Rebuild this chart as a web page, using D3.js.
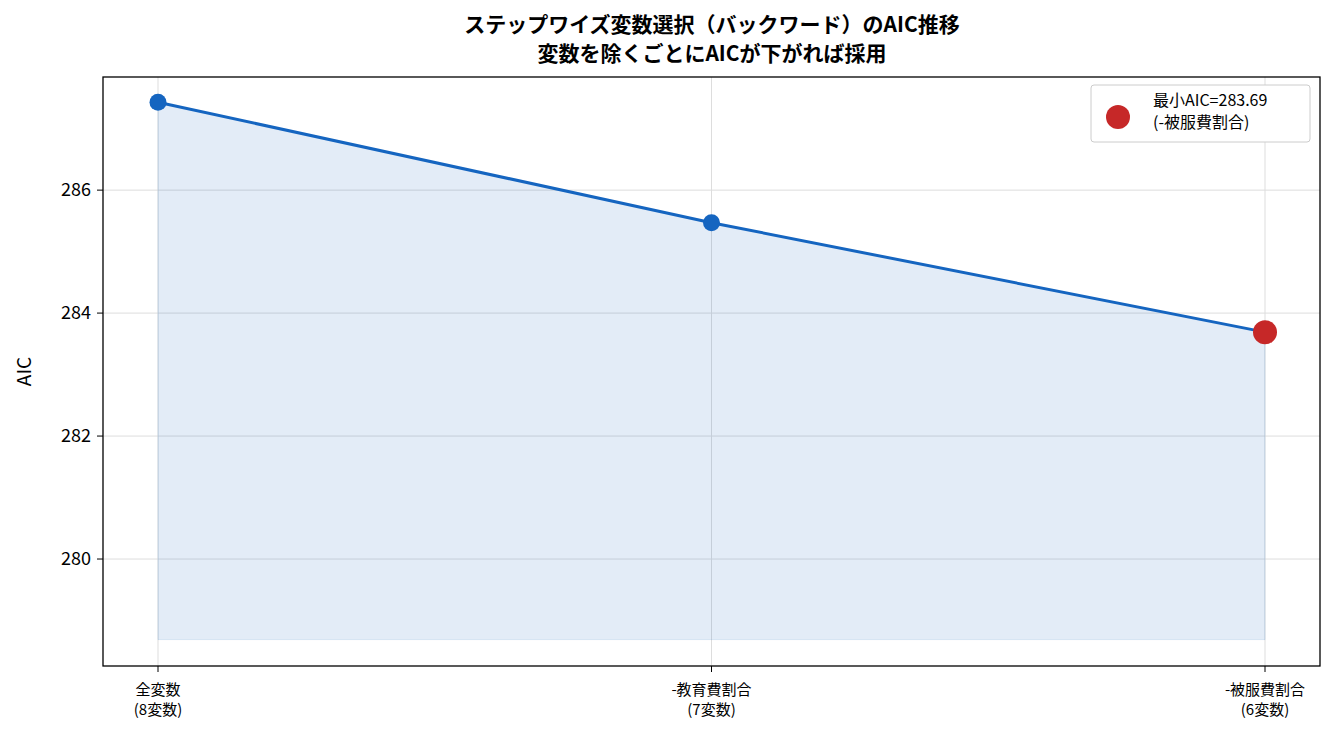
<!DOCTYPE html>
<html><head><meta charset="utf-8">
<script src="https://cdn.jsdelivr.net/npm/d3@7/dist/d3.min.js"></script>
<style>body{margin:0;background:#fff}text{font-family:"Noto Sans CJK JP","Noto Sans",sans-serif}</style>
</head><body><svg id="c" width="1334" height="735"></svg>
<script>
const categories=["全変数\n(8変数)","-教育費割合\n(7変数)","-被服費割合\n(6変数)"];
const aicValues=[287.43,285.47,283.69];
const yTicks=[280,282,284,286];
const titleLines=["ステップワイズ変数選択（バックワード）のAIC推移","変数を除くごとにAICが下がれば採用"];
const legendLines=["最小AIC=283.69","(-被服費割合)"];

const svg=d3.select("#c");
const L=103,R=1320,T=77,B=666;
const x=d3.scaleLinear().domain([0,2]).range([158,1265]);
const y=d3.scaleLinear().domain([278.26,287.84]).range([B,T]);
const base=d3.min(aicValues)-5;

const g=svg.append("g");
yTicks.forEach(t=>g.append("line").attr("x1",L).attr("x2",R).attr("y1",y(t)).attr("y2",y(t)).attr("stroke","#ddd").attr("stroke-width",1));
categories.forEach((c,i)=>g.append("line").attr("x1",x(i)).attr("x2",x(i)).attr("y1",T).attr("y2",B).attr("stroke","#ddd").attr("stroke-width",1));
g.append("path").datum(aicValues).attr("d",d3.area().x((d,i)=>x(i)).y0(y(base)).y1(d=>y(d))).attr("fill","#1565c0").attr("fill-opacity",0.12).attr("stroke","#1565c0").attr("stroke-opacity",0.12);
g.append("path").datum(aicValues).attr("d",d3.line().x((d,i)=>x(i)).y(d=>y(d))).attr("fill","none").attr("stroke","#1565c0").attr("stroke-width",3);
aicValues.forEach((d,i)=>{
  const last=i===aicValues.length-1;
  g.append("circle").attr("cx",x(i)).attr("cy",y(d)).attr("r",last?12:8.5).attr("fill",last?"#c62828":"#1565c0");
});
svg.append("rect").attr("x",L).attr("y",T).attr("width",R-L).attr("height",B-T).attr("fill","none").attr("stroke","#000").attr("stroke-width",1.3);
yTicks.forEach(t=>{
  svg.append("line").attr("x1",L-6).attr("x2",L).attr("y1",y(t)).attr("y2",y(t)).attr("stroke","#000");
  svg.append("text").attr("x",L-12).attr("y",y(t)).attr("dy","0.35em").attr("text-anchor","end").attr("font-size",18).text(t);
});
svg.append("text").attr("transform",`translate(31,${(T+B)/2}) rotate(-90)`).attr("text-anchor","middle").attr("font-size",19).text("AIC");
categories.forEach((c,i)=>{
  svg.append("line").attr("x1",x(i)).attr("x2",x(i)).attr("y1",B).attr("y2",B+6).attr("stroke","#000");
  c.split("\n").forEach((s,k)=>svg.append("text").attr("x",x(i)).attr("y",695+k*20).attr("text-anchor","middle").attr("font-size",15).text(s));
});
titleLines.forEach((s,k)=>svg.append("text").attr("x",712).attr("y",32+k*29).attr("text-anchor","middle").attr("font-size",21).attr("font-weight","bold").text(s));
svg.append("rect").attr("x",1091).attr("y",85).attr("width",219).attr("height",57).attr("rx",3).attr("fill","#fff").attr("stroke","#ccc");
svg.append("circle").attr("cx",1118).attr("cy",117).attr("r",12).attr("fill","#c62828");
legendLines.forEach((s,k)=>svg.append("text").attr("x",1153).attr("y",106+k*22).attr("font-size",16).text(s));
</script></body></html>
